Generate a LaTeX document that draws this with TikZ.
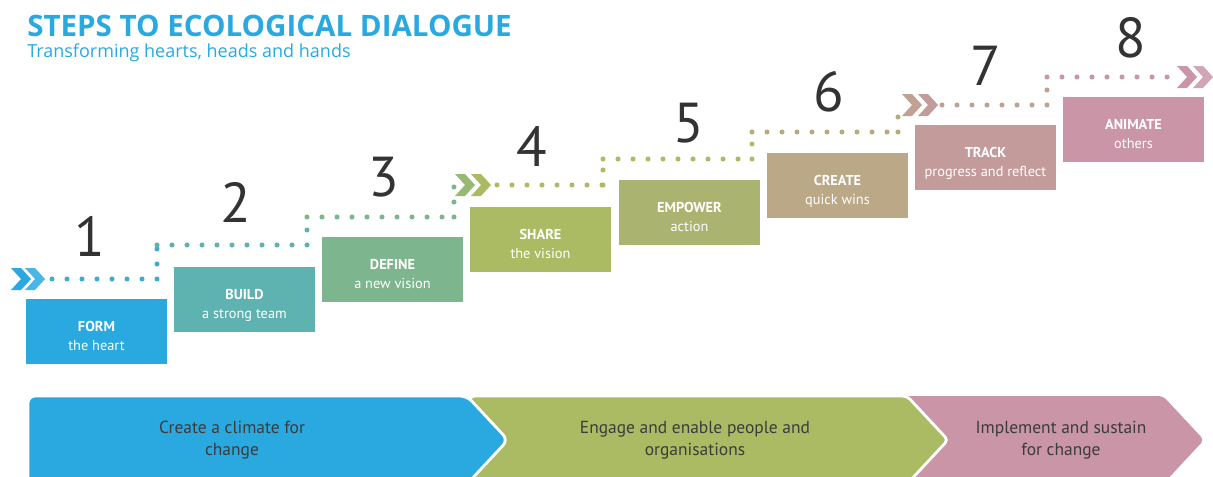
\documentclass[tikz,border=0pt]{standalone}
\usepackage{fontspec}
\setmainfont{PT Sans}
\newfontfamily\headfont{Open Sans}
\usetikzlibrary{positioning}
\definecolor{ecoblue}{HTML}{29A9E0}
\definecolor{ecoteal}{HTML}{5EB2B0}
\definecolor{ecogreen}{HTML}{7DB68E}
\definecolor{ecoolive}{HTML}{AABB63}
\definecolor{ecomoss}{HTML}{AAB36F}
\definecolor{ecotan}{HTML}{BBA886}
\definecolor{ecorose}{HTML}{C49B9B}
\definecolor{ecopink}{HTML}{C995A7}
\definecolor{numgray}{HTML}{333333}
\definecolor{textgray}{HTML}{3C3C3C}
\newcommand\chevron[3]{\fill[#3] (#1,#2) -- ++(10,0) -- ++(10,11) -- ++(-10,11) -- ++(-10,0) -- ++(10,-11) -- cycle;}
\begin{document}
\begin{tikzpicture}[x=0.025cm,y=-0.025cm,
  stepbox/.style={minimum width=3.525cm,minimum height=1.625cm,inner sep=0pt,text=white,align=center,font=\fontsize{10.2}{13.5}\selectfont,text height=27pt,text depth=0pt},
  num/.style={text=numgray,font=\fontsize{40}{40}\selectfont,anchor=base,inner sep=0pt},
  dotline/.style={line width=3.6pt,line cap=round,dash pattern=on 0pt off 0.375cm},
  phase/.style={text=textgray,align=center,font=\fontsize{12.4}{15.6}\selectfont},
  band/.style={draw=white,line width=2pt,rounded corners=3pt}]
\useasboundingbox (0,0) rectangle (1213,476);
\clip (0,0) rectangle (1213,476);

\node[anchor=base west,inner sep=0pt,text=ecoblue,font=\headfont\bfseries\fontsize{21}{21}\selectfont] (title) at (27,36) {STEPS TO ECOLOGICAL DIALOGUE};
\node[anchor=base west,inner sep=0pt,text=ecoblue,font=\headfont\fontsize{12.8}{13}\selectfont] (subtitle) at (27,57) {Transforming hearts, heads and hands};

\chevron{11}{268}{ecoblue}
\chevron{25}{268}{ecoblue!85!white}
\chevron{455}{174}{ecogreen!40!ecoolive}
\chevron{471}{174}{ecoolive}
\chevron{902}{94}{ecotan!45!ecorose}
\chevron{918}{94}{ecorose}
\chevron{1177}{66}{ecopink}
\chevron{1193}{66}{ecopink!85!white}

\draw[dotline,ecoblue!60!ecoteal] (52,279) -- (157,279) (157,279) -- (157,245);
\draw[dotline,ecoteal] (157,245) -- (307,245) (307,245) -- (307,217);
\draw[dotline,ecogreen] (307,217) -- (454,217) (454,217) -- (454,185);
\draw[dotline,ecoolive] (497,185) -- (603,185) (603,185) -- (603,159);
\draw[dotline,ecoolive!85!ecomoss] (603,159) -- (752,159) (752,159) -- (752,132);
\draw[dotline,ecotan!70!ecomoss] (752,132) -- (898,132) (898,132) -- (898,105);
\draw[dotline,ecotan!50!ecorose] (942,105) -- (1047,105) (1047,105) -- (1047,77);
\draw[dotline,ecorose!60!ecopink] (1047,77) -- (1177,77);

\node[stepbox,fill=ecoblue] (form) at (96.5,331.5) {\textbf{FORM}\\the heart};
\node[stepbox,fill=ecoteal] (build) at (244.5,299.5) {\textbf{BUILD}\\a strong team};
\node[stepbox,fill=ecogreen] (define) at (392.5,269.5) {\textbf{DEFINE}\\a new vision};
\node[stepbox,fill=ecoolive] (share) at (540.5,239.5) {\textbf{SHARE}\\the vision};
\node[stepbox,fill=ecomoss] (empower) at (689.5,212.5) {\textbf{EMPOWER}\\action};
\node[stepbox,fill=ecotan] (create) at (837.5,185.5) {\textbf{CREATE}\\quick wins};
\node[stepbox,fill=ecorose] (track) at (985.5,157.5) {\textbf{TRACK}\\progress and reflect};
\node[stepbox,fill=ecopink] (animate) at (1133.5,129.5) {\textbf{ANIMATE}\\others};

\node[num] (n1) at (90,256) {1};
\node[num] (n2) at (236,222) {2};
\node[num] (n3) at (384,196) {3};
\node[num] (n4) at (532,166) {4};
\node[num] (n5) at (689,142) {5};
\node[num] (n6) at (829,111) {6};
\node[num] (n7) at (986,85) {7};
\node[num] (n8) at (1131,57) {8};

\fill[ecopink,rounded corners=3pt] (900,396) -- (1163,396) -- (1204,440) -- (1163,484) -- (900,484) -- cycle;
\filldraw[band,fill=ecoolive] (470,396) -- (907,396) -- (948,440) -- (907,484) -- (470,484) -- cycle;
\filldraw[band,fill=ecoblue,rounded corners=5pt] (28,396) -- (467,396) -- (508,440) -- (467,484) -- (28,484) -- cycle;

\node[phase] (climate) at (232,440) {Create a climate for\\change};
\node[phase] (engage) at (695,440) {Engage and enable people and\\organisations};
\node[phase] (sustain) at (1061,440) {Implement and sustain\\for change};
\end{tikzpicture}
\end{document}
